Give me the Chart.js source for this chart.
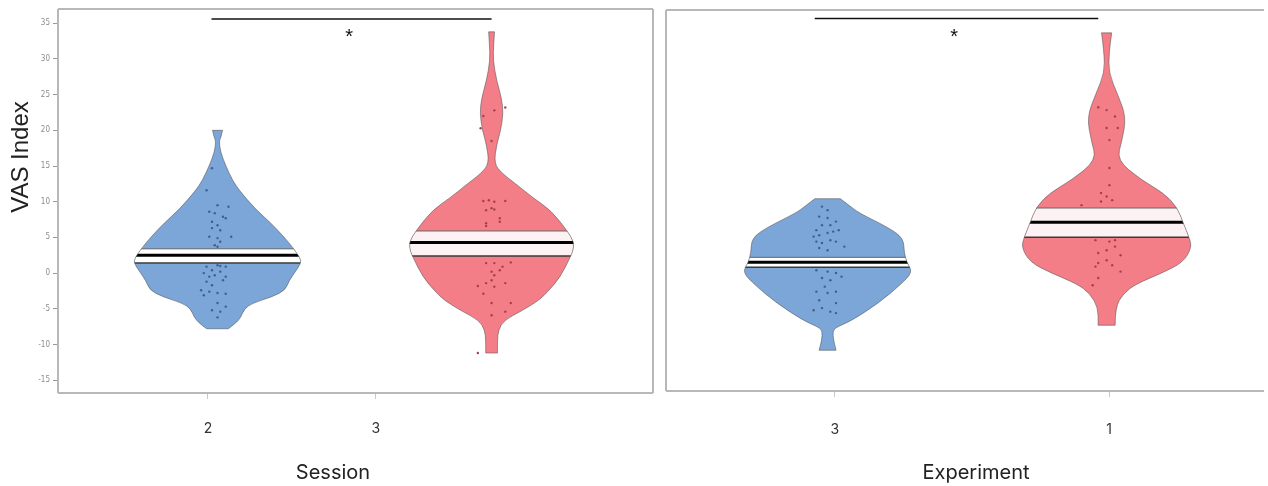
<!DOCTYPE html>
<html lang="en">
<head>
  <meta charset="UTF-8">
  <title>VAS Index violins</title>
  <script src="https://cdn.jsdelivr.net/npm/chart.js"></script>
  <style>
    html, body { margin: 0; padding: 0; background: #fff; }
    .wrap { position: relative; width: 1268px; height: 486px; overflow: hidden; }
    canvas { position: absolute; top: 0; }
    #left { left: 0; }
    #right { left: 660px; }
  </style>
</head>
<body>
  <div class="wrap">
    <canvas id="left" width="660" height="486"></canvas>
    <canvas id="right" width="608" height="486"></canvas>
  </div>

  <script>
    // tick labels
    const yTicks = [-15, -10, -5, 0, 5, 10, 15, 20, 25, 30, 35];
    const sessionLabels = ['2', '3'];
    const experimentLabels = ['3', '1'];

    // violin outlines: levels (VAS) and relative density
    const session2Levels = [20, 19, 18.5, 17, 15, 13, 11.6, 9, 7, 5, 3.6, 2.1, 1.4, 0, -1, -2.4, -3.3, -4.2, -5, -6.2, -7, -7.8];
    const session2Density = [0.06, 0.04, 0.02, 0.035, 0.1, 0.18, 0.26, 0.45, 0.64, 0.8, 0.9, 0.99, 1.0, 0.92, 0.86, 0.81, 0.66, 0.42, 0.32, 0.28, 0.22, 0.13];
    const session3Levels = [33.8, 32, 29.8, 27, 24.5, 22.4, 20, 18, 15.4, 14, 12.6, 10.5, 8.8, 6, 4.3, 3, 2.2, -0.6, -2.5, -3.8, -5.3, -6.6, -8, -9.5, -11.2];
    const session3Density = [0.035, 0.025, 0.018, 0.06, 0.12, 0.14, 0.11, 0.06, 0.03, 0.12, 0.28, 0.5, 0.71, 0.9, 0.99, 0.97, 0.94, 0.82, 0.68, 0.57, 0.36, 0.15, 0.08, 0.07, 0.07];
    const exp3Levels = [10.4, 9.4, 8.4, 6.4, 4.9, 2.9, 1.5, 0.1, -1.7, -4.2, -6.6, -7.5, -8, -9.5, -10.8];
    const exp3Density = [0.15, 0.26, 0.37, 0.71, 0.89, 0.9, 0.93, 1.0, 0.85, 0.6, 0.29, 0.12, 0.06, 0.07, 0.1];
    const exp1Levels = [33.6, 31, 28, 25, 21.8, 18.5, 15.8, 13, 11.2, 9.2, 7, 5, 3.6, 1.5, 0, -1.5, -2.8, -4.8, -7.3];
    const exp1Density = [0.06, 0.03, 0.024, 0.13, 0.23, 0.18, 0.12, 0.41, 0.67, 0.83, 0.9, 0.97, 1.0, 0.9, 0.65, 0.35, 0.2, 0.1, 0.1];

    // boxes: q1, median, q3
    const session2Box = [1.4, 2.5, 3.4];
    const session3Box = [2.4, 4.3, 5.9];
    const exp3Box = [0.8, 1.5, 2.2];
    const exp1Box = [5.0, 7.1, 9.1];

    // individual points and their horizontal jitter
    const session2Points = [14.7, 11.6, 9.5, 9.3, 8.6, 8.4, 7.9, 7.2, 7.7, 6.7, 6.3, 6.0, 5.1, 4.9, 4.4, 5.1, 3.9, 3.7, 1.1, 1.0, 0.9, 0.9, 0.4, 0.2, 0.0, -0.3, -0.5, -0.5, -1.2, -1.7, -1.0, -2.4, -2.6, -2.8, -2.9, -3.1, -4.2, -4.7, -5.2, -5.4, -6.2];
    const session2Jitter = [-0.02, -0.04, 0, 0.04, -0.03, -0.01, 0.02, -0.02, 0.03, 0, -0.02, 0.01, -0.03, 0, 0.01, 0.05, -0.01, 0, 0, 0.01, -0.04, 0.03, -0.02, 0.01, -0.05, -0.01, -0.03, 0.03, -0.04, -0.02, 0.02, -0.06, -0.03, 0, 0.03, -0.05, 0, 0.03, -0.02, 0.01, 0];
    const session3Points = [22.8, 22.0, 23.2, 18.5, 20.3, 10.1, 10.2, 10.0, 10.1, 9.1, 8.8, 8.9, 7.7, 7.0, 7.2, 6.6, 1.4, 1.4, 0.9, 1.5, 0.2, -0.3, 0.4, -1.0, -1.4, -1.9, -1.8, -1.4, -2.9, -4.2, -4.2, -5.4, -5.9, -11.2];
    const session3Jitter = [0.01, -0.03, 0.05, 0, -0.04, -0.03, -0.01, 0.01, 0.05, 0, -0.02, 0.01, 0.03, -0.02, 0.03, -0.02, -0.02, 0.01, 0.04, 0.07, 0, 0.01, 0.03, 0, -0.02, 0.01, -0.05, 0.05, -0.03, 0, 0.07, 0.05, 0, -0.05];
    const exp3Points = [9.3, 8.8, 7.9, 7.7, 6.7, 6.0, 6.7, 7.2, 5.1, 5.3, 5.6, 5.8, 6.0, 4.4, 4.2, 4.6, 4.4, 3.7, 3.5, 3.2, 0.4, 0.2, 0.0, -0.5, -0.7, -1.0, -1.9, -2.6, -2.8, -2.6, -3.8, -4.2, -5.2, -4.9, -5.4, -5.6];
    const exp3Jitter = [-0.02, 0, -0.03, 0, -0.02, -0.04, 0.01, 0.03, -0.05, -0.03, 0, 0.02, 0.04, -0.04, -0.02, 0.01, 0.03, 0.06, -0.03, 0, -0.04, 0, 0.03, 0.05, -0.02, 0.01, -0.01, -0.04, 0, 0.03, -0.03, 0.03, -0.05, -0.02, 0.01, 0.03];
    const exp1Points = [23.2, 22.8, 21.9, 20.3, 20.3, 18.6, 14.7, 12.3, 11.2, 10.7, 10.2, 9.5, 10.0, 4.6, 4.4, 4.6, 3.2, 3.7, 2.8, 1.8, 2.5, 1.1, 1.4, 0.2, -0.7, -1.7, 0.9];
    const exp1Jitter = [-0.03, 0, 0.03, 0, 0.04, 0.01, 0.01, 0.01, -0.02, 0, 0.02, -0.09, -0.02, -0.04, 0.01, 0.03, 0, 0.03, -0.03, 0, 0.05, 0.02, -0.03, 0.05, -0.03, -0.05, -0.04];

    const BLUE = '#7ca5d8';
    const RED = '#f47e87';
    const HALF_WIDTH = 0.305;  // x units at density 1

    function violinPath(xs, ys, v) {
      const left = v.levels.map((l, i) => [xs.getPixelForValue(v.pos - v.density[i] * HALF_WIDTH), ys.getPixelForValue(l)]);
      const right = v.levels.map((l, i) => [xs.getPixelForValue(v.pos + v.density[i] * HALF_WIDTH), ys.getPixelForValue(l)]).reverse();
      const p = new Path2D();
      const side = (pts, first) => {
        if (first) p.moveTo(pts[0][0], pts[0][1]); else p.lineTo(pts[0][0], pts[0][1]);
        for (let i = 1; i < pts.length - 1; i++) {
          const mx = (pts[i][0] + pts[i + 1][0]) / 2, my = (pts[i][1] + pts[i + 1][1]) / 2;
          p.quadraticCurveTo(pts[i][0], pts[i][1], mx, my);
        }
        const last = pts[pts.length - 1];
        p.lineTo(last[0], last[1]);
      };
      side(left, true);
      side(right, false);
      p.closePath();
      return p;
    }

    function makeViolinPlugin(items, sig, sides, xTitle, yTitle) {
      return {
        id: 'violins',
        beforeDatasetsDraw(chart) {
          const { ctx, scales: { x, y } } = chart;
          items.forEach(v => {
            const path = violinPath(x, y, v);
            ctx.save();
            ctx.fillStyle = v.fill;
            ctx.fill(path);
            ctx.clip(path);
            const q1 = y.getPixelForValue(v.box[0]);
            const med = y.getPixelForValue(v.box[1]);
            const q3 = y.getPixelForValue(v.box[2]);
            ctx.fillStyle = v.band;
            ctx.fillRect(x.left, q3, x.width, q1 - q3);
            ctx.strokeStyle = '#3a3a3a';
            ctx.lineWidth = 1.5;
            ctx.beginPath(); ctx.moveTo(x.left, q1); ctx.lineTo(x.right, q1); ctx.stroke();
            ctx.strokeStyle = '#666';
            ctx.lineWidth = 1;
            ctx.beginPath(); ctx.moveTo(x.left, q3); ctx.lineTo(x.right, q3); ctx.stroke();
            ctx.strokeStyle = '#000';
            ctx.lineWidth = 3;
            ctx.beginPath(); ctx.moveTo(x.left, med); ctx.lineTo(x.right, med); ctx.stroke();
            ctx.restore();
            ctx.save();
            ctx.strokeStyle = 'rgba(80,80,80,0.55)';
            ctx.lineWidth = 1;
            ctx.stroke(path);
            ctx.restore();
          });
        },
        afterDraw(chart) {
          const { ctx, chartArea: a, scales: { x, y } } = chart;
          ctx.save();
          // frame
          ctx.strokeStyle = '#b8b8b8';
          ctx.lineWidth = 2;
          ctx.beginPath();
          if (sides.includes('top')) { ctx.moveTo(a.left, a.top); ctx.lineTo(a.right, a.top); }
          if (sides.includes('left')) { ctx.moveTo(a.left, a.top); ctx.lineTo(a.left, a.bottom); }
          if (sides.includes('right')) { ctx.moveTo(a.right, a.top); ctx.lineTo(a.right, a.bottom); }
          if (sides.includes('bottom')) { ctx.moveTo(a.left, a.bottom); ctx.lineTo(a.right, a.bottom); }
          ctx.stroke();
          // significance bar
          const by = y.getPixelForValue(sig.y);
          ctx.strokeStyle = '#111';
          ctx.lineWidth = 1.5;
          ctx.beginPath();
          ctx.moveTo(x.getPixelForValue(sig.from), by);
          ctx.lineTo(x.getPixelForValue(sig.to), by);
          ctx.stroke();
          ctx.fillStyle = '#111';
          ctx.font = '20px "Liberation Sans"';
          ctx.textAlign = 'center';
          ctx.textBaseline = 'middle';
          ctx.fillText('*', x.getPixelForValue(sig.starX), y.getPixelForValue(sig.starY));
          // axis titles
          ctx.fillStyle = '#222';
          ctx.font = '20px Inter, "Noto Sans", sans-serif';
          ctx.fillText(xTitle.text, xTitle.x, 473);
          if (yTitle) {
            ctx.translate(21, 157);
            ctx.rotate(-Math.PI / 2);
            ctx.font = '24px "Liberation Sans", Arial, sans-serif';
            ctx.fillText(yTitle, 0, 0);
          }
          ctx.restore();
        }
      };
    }

    function pointsData(pos, values, jitter) {
      return values.map((v, i) => ({ x: pos + jitter[i], y: v }));
    }

    function buildChart(id, cfg) {
      return new Chart(document.getElementById(id), {
        type: 'scatter',
        data: {
          datasets: cfg.items.map(v => ({
            data: pointsData(v.pos, v.points, v.jitter),
            pointRadius: 1.2,
            pointBorderWidth: 0,
            backgroundColor: v.dot
          }))
        },
        options: {
          responsive: false,
          animation: false,
          layout: { padding: cfg.padding },
          plugins: { legend: { display: false }, tooltip: { enabled: false } },
          scales: {
            x: {
              type: 'linear',
              min: cfg.xMin,
              max: cfg.xMax,
              afterFit: s => { s.height = cfg.xHeight; },
              afterBuildTicks: s => { s.ticks = cfg.labelPos.map(v => ({ value: v })); },
              ticks: {
                padding: cfg.labelPad,
                color: '#333',
                font: { size: 14, family: 'Inter, "Noto Sans", sans-serif' },
                callback: (val, i) => cfg.labels[i]
              },
              grid: { drawOnChartArea: false, tickLength: 6, color: '#c8c8c8' },
              border: { display: false }
            },
            y: {
              min: cfg.yMin,
              max: cfg.yMax,
              afterFit: s => { s.width = cfg.yWidth; },
              afterBuildTicks: s => { s.ticks = yTicks.map(v => ({ value: v })); },
              ticks: {
                display: cfg.showYTicks,
                padding: 3,
                color: '#8c8c8c',
                font: { size: 8, family: '"Liberation Sans Narrow", "DejaVu Sans Condensed", sans-serif' }
              },
              grid: { drawOnChartArea: false, drawTicks: cfg.showYTicks, tickLength: 5, color: '#999' },
              border: { display: false }
            }
          }
        },
        plugins: [makeViolinPlugin(cfg.items, cfg.sig, cfg.sides, cfg.xTitle, cfg.yTitle)]
      });
    }

    buildChart('left', {
      padding: { top: 9, right: 7, left: 0, bottom: 0 },
      xMin: 0.418, xMax: 2.589, xHeight: 93, yWidth: 58, labelPad: 21,
      yMin: -16.8, yMax: 37.0, showYTicks: true,
      labelPos: [0.965, 1.578], labels: sessionLabels,
      sides: ['top', 'left', 'right', 'bottom'],
      sig: { from: 0.978, to: 2.0, y: 35.6, starX: 1.48, starY: 33.0 },
      xTitle: { text: 'Session', x: 333 },
      yTitle: 'VAS Index',
      items: [
        { pos: 1, levels: session2Levels, density: session2Density, box: session2Box, fill: BLUE, band: '#ffffff', dot: '#3f5f8c', points: session2Points, jitter: session2Jitter },
        { pos: 2, levels: session3Levels, density: session3Density, box: session3Box, fill: RED, band: '#fdf2f3', dot: '#a4404d', points: session3Points, jitter: session3Jitter }
      ]
    });

    buildChart('right', {
      padding: { top: 10, right: 0, left: 0, bottom: 0 },
      xMin: 0.421, xMax: 2.564, xHeight: 95, yWidth: 6, labelPad: 24,
      yMin: -16.5, yMax: 36.8, showYTicks: false,
      labelPos: [1.026, 2.009], labels: experimentLabels,
      sides: ['top', 'left', 'bottom'],
      sig: { from: 0.954, to: 1.97, y: 35.6, starX: 1.454, starY: 33.0 },
      xTitle: { text: 'Experiment', x: 316 },
      yTitle: null,
      items: [
        { pos: 1, levels: exp3Levels, density: exp3Density, box: exp3Box, fill: BLUE, band: '#ffffff', dot: '#3f5f8c', points: exp3Points, jitter: exp3Jitter },
        { pos: 2, levels: exp1Levels, density: exp1Density, box: exp1Box, fill: RED, band: '#fdf2f3', dot: '#a4404d', points: exp1Points, jitter: exp1Jitter }
      ]
    });
  </script>
</body>
</html>
